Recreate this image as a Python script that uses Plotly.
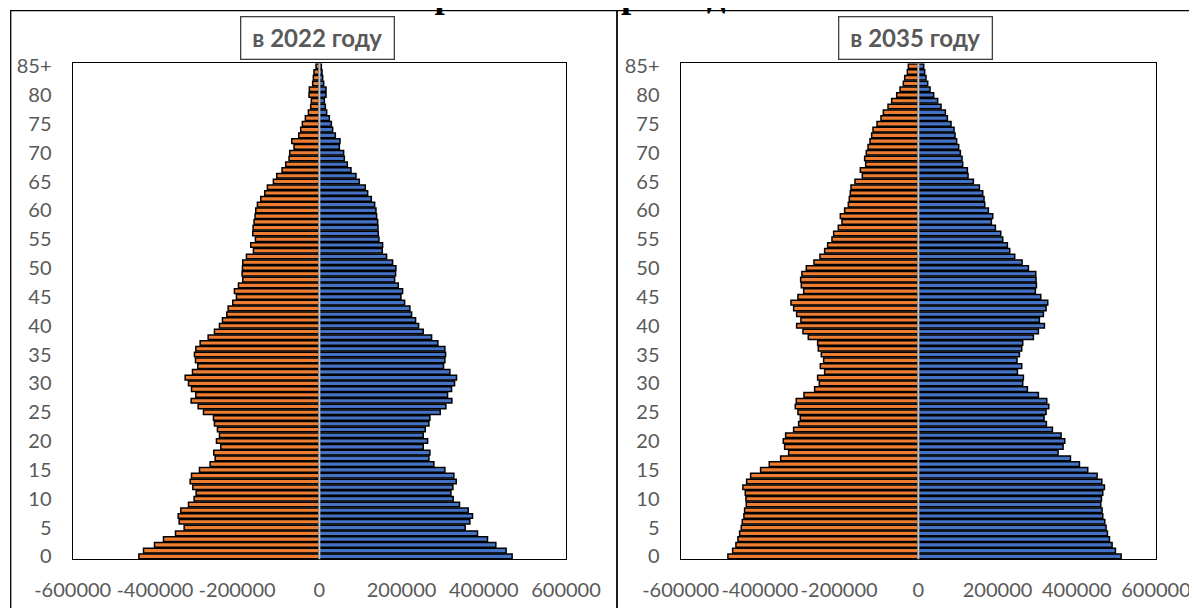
import plotly.graph_objects as go

# ---------------- data ----------------
ages = [str(a) for a in range(85)] + ["85+"]
age_ticks = ages[::5]
x_ticks = [-600000, -400000, -200000, 0, 200000, 400000, 600000]

women_2022 = [
    439000, 427700, 401000, 379100, 349900, 328900, 341000, 343400, 337000, 318300,
    304600, 299700, 307800, 314300, 311000, 291600, 265700, 253500, 256800, 239800,
    250300, 243000, 247900, 255200, 257600, 281900, 294800, 311900, 300500, 311000,
    318300, 326400, 308600, 295700, 301300, 303800, 300500, 290000, 270500, 255200,
    243000, 235700, 225200, 221900, 210600, 201700, 206600, 196800, 186300, 187900,
    187100, 186300, 177400, 160400, 166900, 155500, 162000, 161200, 158800, 156300,
    154700, 150700, 142600, 132800, 126400, 111800, 103700, 90700, 81800, 73700,
    72100, 61600, 67200, 50200, 45400, 41300, 34000, 26700, 21100, 19400,
    25100, 24300, 16200, 14600, 13000, 8100,
]
men_2022 = [
    469000, 454400, 429300, 409100, 384800, 354800, 366100, 372600, 362100, 341000,
    325600, 320000, 324800, 332900, 327200, 305400, 278600, 266500, 268900, 252700,
    263300, 252700, 257600, 266500, 268900, 294000, 307800, 322400, 311900, 321600,
    328900, 333700, 317500, 302100, 305400, 307000, 305400, 288400, 273000, 252700,
    241400, 234100, 224400, 220300, 207400, 198500, 202500, 192000, 183100, 185500,
    186300, 178200, 163600, 153100, 153900, 145000, 143400, 142600, 141800, 139300,
    137700, 134500, 126400, 117500, 111800, 97200, 89100, 77000, 68000, 60800,
    59100, 48600, 50200, 38900, 32400, 29200, 24300, 17800, 14600, 12200,
    16200, 16200, 10500, 8100, 6500, 4900,
]
women_2035 = [
    480800, 469000, 460600, 455500, 451300, 447100, 444600, 440400, 438700, 434500,
    435300, 437000, 442900, 433600, 423500, 398300, 376400, 347700, 327500, 337600,
    341000, 335100, 314900, 302300, 298100, 304000, 310700, 308200, 288800, 261900,
    250100, 254300, 236600, 247500, 239100, 245000, 252600, 254300, 277900, 291300,
    307300, 296400, 307300, 314900, 321600, 304000, 289600, 295500, 297200, 293900,
    282900, 263500, 248400, 236600, 229000, 218100, 213900, 202100, 192800, 197000,
    186100, 176800, 174300, 171800, 170100, 160000, 141500, 146500, 133000, 135600,
    131400, 127100, 122100, 117900, 114500, 104400, 94300, 88400, 76600, 67400,
    54700, 46300, 37900, 34500, 27800, 25300,
]
men_2035 = [
    511900, 497600, 489200, 482500, 477400, 474000, 470700, 465600, 463900, 460600,
    462300, 465600, 469800, 463100, 451300, 427700, 406700, 384000, 352800, 365400,
    369600, 360400, 338500, 323300, 317400, 322500, 329200, 324200, 303100, 275300,
    263500, 265200, 250100, 261000, 249200, 255100, 261000, 263500, 290500, 303100,
    318300, 305600, 315800, 322500, 326700, 309000, 295500, 298100, 297200, 296400,
    277900, 261900, 243300, 230700, 224800, 213000, 208000, 194500, 184400, 187800,
    176800, 167600, 165900, 162500, 154100, 138900, 125500, 123800, 112000, 110300,
    106100, 101900, 96800, 92600, 90100, 82500, 73300, 68200, 57300, 48800,
    38700, 29500, 23600, 19400, 16000, 13500,
]

title_text = "Изменения в половозрастной пирамиде населения Узбекистана"
panel_titles = ["в 2022 году", "в 2035 году"]

# ---------------- styling ----------------
W, H = 1197, 608
OFF = 8  # page body margin: the figure is drawn 8px right/down in the window
ORANGE = "#ED7D31"
BLUE = "#4472C4"
GRAY = "#595959"
TICKFONT = dict(family="Lato", size=20, color=GRAY)


def px_x(p):
    """window pixel (from left) -> paper x"""
    return (p - OFF) / W


def px_y(p):
    """window pixel (from top) -> paper y"""
    return 1 - (p - OFF) / H


fig = go.Figure()

for xa, ya, women, men in (("x", "y", women_2022, men_2022),
                           ("x2", "y2", women_2035, men_2035)):
    fig.add_trace(go.Bar(
        y=ages, x=[-v for v in women], orientation="h", name="Женщины",
        marker=dict(color=ORANGE, line=dict(color="black", width=1.5)),
        xaxis=xa, yaxis=ya,
    ))
    fig.add_trace(go.Bar(
        y=ages, x=men, orientation="h", name="Мужчины",
        marker=dict(color=BLUE, line=dict(color="black", width=1.5)),
        xaxis=xa, yaxis=ya,
    ))

ydom = [px_y(559.3), px_y(63.3)]
xdom1 = [px_x(72.7), px_x(566.0)]
xdom2 = [px_x(680.7), px_x(1156.0)]


def xaxis(domain, anchor):
    return dict(
        domain=domain, anchor=anchor, range=[-600000, 600000],
        tickmode="array", tickvals=x_ticks, ticktext=[str(v) for v in x_ticks],
        tickangle=0, automargin=False,
        showline=True, mirror=True, linecolor="black", linewidth=1.3,
        showgrid=False, zeroline=False, ticks="", ticklabelstandoff=13,
        tickfont=TICKFONT, fixedrange=True,
    )


def yaxis(anchor):
    return dict(
        domain=ydom, anchor=anchor, type="category",
        categoryorder="array", categoryarray=ages, range=[-0.5, 85.5],
        tickmode="array", tickvals=age_ticks, ticktext=age_ticks,
        automargin=False,
        showline=True, mirror=True, linecolor="black", linewidth=1.3,
        showgrid=False, zeroline=False, ticks="", ticklabelstandoff=16,
        tickfont=TICKFONT, fixedrange=True,
    )


shapes = [
    # chart frames
    dict(type="rect", xref="paper", yref="paper", x0=px_x(10.7), x1=px_x(617),
         y0=-0.1, y1=px_y(10.7), line=dict(color="black", width=1.3), layer="below"),
    dict(type="rect", xref="paper", yref="paper", x0=px_x(617), x1=1.1,
         y0=-0.1, y1=px_y(10.7), line=dict(color="black", width=1.3), layer="below"),
    # vertical axis (zero) lines above the bars
    dict(type="line", xref="x", yref="y domain", x0=0, x1=0, y0=0, y1=1,
         line=dict(color="#c4c4c4", width=2), layer="above"),
    dict(type="line", xref="x2", yref="y2 domain", x0=0, x1=0, y0=0, y1=1,
         line=dict(color="#c4c4c4", width=2), layer="above"),
]

annotations = [
    dict(text="<b>%s</b>" % title_text, xref="paper", yref="paper",
         x=px_x(611), y=px_y(-6), xanchor="center", yanchor="middle", showarrow=False,
         font=dict(family="Liberation Serif", size=37, color="black")),
]
for cx, t in zip((317.5, 915.5), panel_titles):
    annotations.append(dict(
        text="<b>%s</b>" % t, xref="paper", yref="paper",
        x=px_x(cx), y=px_y(38.4), xanchor="center", yanchor="middle",
        showarrow=False, font=dict(family="Lato", size=24, color=GRAY),
        bordercolor="#404040", borderwidth=1.3, borderpad=0,
        width=152, height=41, bgcolor="white",
    ))

fig.update_layout(
    template="none",
    width=W, height=H,
    margin=dict(l=0, r=0, t=0, b=0, autoexpand=False),
    paper_bgcolor="white", plot_bgcolor="white",
    barmode="relative", bargap=0.2, showlegend=False,
    xaxis=xaxis(xdom1, "y"), yaxis=yaxis("x"),
    xaxis2=xaxis(xdom2, "y2"), yaxis2=yaxis("x2"),
    shapes=shapes, annotations=annotations,
)

fig.write_html("out.html")
